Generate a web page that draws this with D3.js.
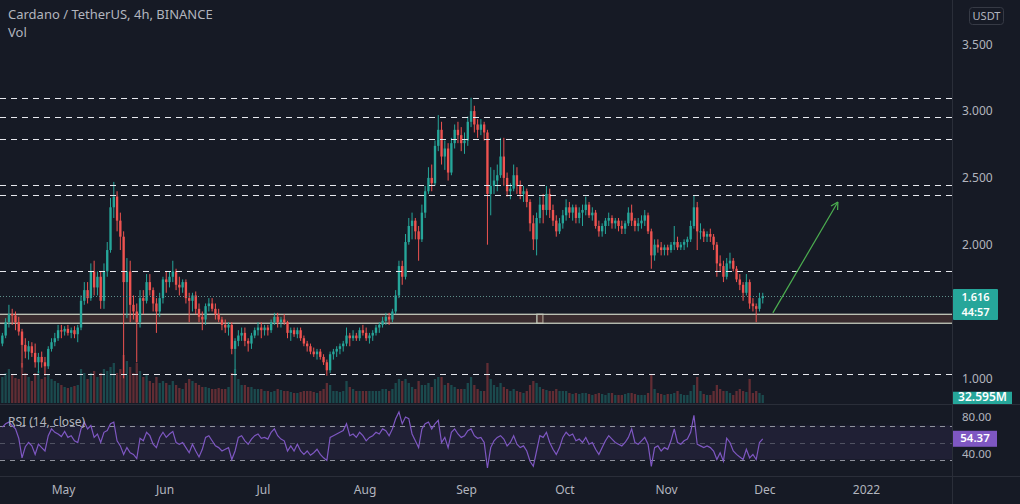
<!DOCTYPE html>
<html><head><meta charset="utf-8">
<script src="https://cdn.jsdelivr.net/npm/d3@7"></script>
<style>
html,body{margin:0;padding:0;background:#161a25;}
svg{display:block;}
text{font-family:"Noto Sans","Open Sans",sans-serif;}
</style></head><body>
<svg id="c" width="1020" height="504"></svg>
<script>
// ---------------- DATA (daily, 2021-04-12 .. 2021-11-30) ----------------
const startDay = [2021, 3, 12];          // 12 Apr 2021 (UTC)
const firstOpen = 1.26;
const closePrices = [
  1.32,1.42,1.48,1.47,1.42,1.35,1.25,1.20,1.24,1.19,1.12,1.16,1.12,1.09,1.22,1.27,1.30,1.36,1.35,
  1.37,1.34,1.36,1.33,1.38,1.58,1.66,1.60,1.80,1.68,1.76,1.58,1.80,1.96,2.28,2.36,2.18,2.06,1.72,1.80,1.55,1.50,1.42,1.60,1.58,1.72,1.66,1.56,1.50,1.60,1.74,
  1.72,1.76,1.80,1.70,1.68,1.72,1.60,1.58,1.62,1.52,1.46,1.44,1.54,1.56,1.52,1.48,1.44,1.40,1.38,1.40,1.22,1.28,1.32,1.34,1.28,1.26,1.32,1.36,1.38,1.36,
  1.38,1.36,1.42,1.46,1.42,1.44,1.42,1.34,1.36,1.33,1.36,1.30,1.26,1.24,1.20,1.18,1.20,1.16,1.12,1.06,1.18,1.20,1.22,1.24,1.26,1.32,1.30,1.32,1.30,1.36,1.34,
  1.30,1.32,1.34,1.38,1.40,1.43,1.46,1.44,1.50,1.62,1.84,1.76,2.02,2.14,2.18,2.10,2.04,2.24,2.40,2.50,2.46,2.74,2.86,2.66,2.72,2.54,2.76,2.86,2.82,2.76,2.78,
  2.92,3.00,2.90,2.86,2.90,2.84,2.38,2.44,2.48,2.52,2.66,2.50,2.40,2.42,2.52,2.44,2.38,2.40,2.32,2.16,2.04,2.20,2.30,2.26,2.38,2.26,2.18,2.10,2.16,2.22,
  2.28,2.24,2.28,2.20,2.24,2.26,2.30,2.22,2.24,2.14,2.10,2.14,2.18,2.20,2.16,2.18,2.14,2.12,2.16,2.24,2.18,2.14,2.16,2.18,2.22,2.10,1.92,2.00,1.98,1.96,1.98,
  1.96,2.00,2.02,1.98,2.00,2.02,2.04,2.14,2.28,2.10,2.10,2.06,2.08,2.06,2.00,1.86,1.84,1.76,1.86,1.88,1.82,1.74,1.70,1.64,1.72,1.56,1.54,1.52,1.60,1.616
];
const highPrices = [
  1.34,1.45,1.55,1.52,1.50,1.46,1.37,1.30,1.28,1.27,1.26,1.19,1.20,1.16,1.24,1.30,1.34,1.40,1.40,
  1.39,1.40,1.38,1.39,1.40,1.62,1.72,1.72,1.86,1.88,1.80,1.80,1.86,2.02,2.35,2.47,2.40,2.24,2.10,1.90,1.88,1.62,1.56,1.66,1.66,1.78,1.78,1.68,1.60,1.64,1.76,
  1.80,1.80,1.88,1.82,1.76,1.74,1.74,1.64,1.64,1.65,1.56,1.50,1.56,1.60,1.60,1.56,1.52,1.46,1.44,1.42,1.42,1.30,1.36,1.38,1.38,1.30,1.34,1.38,1.42,1.42,
  1.40,1.40,1.44,1.49,1.49,1.46,1.48,1.43,1.38,1.38,1.38,1.38,1.32,1.28,1.26,1.23,1.22,1.22,1.18,1.14,1.20,1.22,1.24,1.26,1.28,1.38,1.34,1.36,1.34,1.38,1.40,
  1.38,1.34,1.36,1.40,1.42,1.46,1.49,1.49,1.52,1.66,1.88,1.88,2.08,2.20,2.24,2.20,2.14,2.30,2.44,2.58,2.60,2.78,2.97,2.92,2.78,2.76,2.80,2.90,2.92,2.88,2.84,
  2.96,3.10,3.04,2.94,2.94,2.92,2.86,2.58,2.56,2.60,2.80,2.80,2.54,2.46,2.60,2.58,2.48,2.44,2.42,2.34,2.22,2.24,2.36,2.38,2.44,2.42,2.30,2.22,2.20,2.26,
  2.34,2.32,2.30,2.30,2.28,2.30,2.36,2.32,2.28,2.26,2.18,2.16,2.20,2.24,2.22,2.20,2.20,2.18,2.18,2.28,2.30,2.20,2.20,2.22,2.26,2.24,2.12,2.04,2.04,2.02,2.00,
  2.00,2.02,2.14,2.06,2.02,2.04,2.06,2.18,2.37,2.32,2.16,2.12,2.10,2.12,2.08,2.02,1.92,1.88,1.90,1.94,1.90,1.84,1.78,1.72,1.78,1.74,1.60,1.56,1.64,1.64
];
const lowPrices = [
  1.24,1.30,1.38,1.40,1.36,1.32,1.08,1.15,1.14,1.16,1.08,1.04,1.08,1.02,1.07,1.20,1.24,1.28,1.30,
  1.32,1.32,1.30,1.30,1.27,1.36,1.55,1.56,1.58,1.62,1.62,1.52,1.52,1.76,1.94,2.20,2.10,1.96,1.00,1.45,1.42,1.44,1.12,1.38,1.48,1.56,1.62,1.50,1.34,1.46,1.56,
  1.64,1.68,1.72,1.66,1.62,1.64,1.56,1.42,1.50,1.48,1.42,1.36,1.40,1.50,1.50,1.44,1.42,1.36,1.34,1.32,1.18,1.02,1.24,1.28,1.24,1.20,1.22,1.30,1.32,1.30,
  1.32,1.32,1.34,1.40,1.38,1.38,1.40,1.30,1.28,1.31,1.30,1.28,1.24,1.20,1.18,1.16,1.14,1.14,1.10,1.02,1.04,1.14,1.16,1.18,1.20,1.24,1.24,1.28,1.28,1.28,1.32,
  1.28,1.26,1.28,1.32,1.34,1.38,1.40,1.40,1.42,1.48,1.60,1.70,1.74,2.00,2.04,2.04,1.88,2.02,2.20,2.38,2.40,2.44,2.70,2.60,2.56,2.48,2.52,2.72,2.76,2.70,2.68,
  2.74,2.88,2.84,2.80,2.82,2.78,2.00,2.22,2.38,2.40,2.50,2.44,2.36,2.34,2.40,2.38,2.34,2.32,2.28,2.10,1.96,1.92,2.16,2.16,2.22,2.20,2.14,2.06,2.08,2.12,
  2.18,2.20,2.18,2.16,2.16,2.14,2.22,2.20,2.18,2.12,2.06,2.06,2.08,2.14,2.12,2.12,2.10,2.08,2.08,2.14,2.14,2.10,2.10,2.12,2.14,2.08,1.82,1.88,1.94,1.92,1.92,
  1.92,1.94,1.96,1.96,1.96,1.96,1.98,2.02,2.12,1.96,2.04,2.02,2.02,2.02,1.96,1.76,1.80,1.72,1.74,1.82,1.80,1.72,1.66,1.58,1.62,1.52,1.50,1.42,1.50,1.56
];
const volumes = [ // millions
  260,300,340,280,250,240,400,300,260,220,300,320,240,260,280,240,220,200,180,
  160,150,160,170,180,340,300,240,300,320,260,300,340,320,360,400,300,340,480,420,360,300,400,320,260,280,220,200,260,200,220,
  200,180,220,180,150,140,200,240,220,200,180,160,160,150,140,140,150,140,140,160,300,340,240,180,180,160,160,140,140,140,
  120,120,110,120,140,130,120,120,110,100,100,110,120,120,120,110,100,120,140,200,180,120,120,110,120,220,160,140,120,120,120,
  120,120,120,120,120,140,140,120,140,200,240,220,240,200,160,140,220,180,180,200,160,240,260,260,180,200,180,160,140,140,140,
  200,260,180,140,120,120,400,240,180,160,200,160,140,120,140,120,110,100,120,180,220,200,160,140,130,120,120,140,120,120,
  120,100,90,100,90,100,100,90,80,90,100,90,80,100,100,80,80,80,90,100,100,90,80,80,80,100,280,140,100,90,80,
  90,90,100,120,90,80,80,120,180,260,120,90,80,80,120,180,140,120,120,100,80,120,140,120,110,240,100,120,100,80
];
const rsiValues = [
  68,72,74,70,66,55,32,45,50,46,36,48,44,40,58,66,62,60,57,
  63,56,58,52,50,66,74,66,70,56,60,50,62,64,72,74,52,46,36,44,38,36,31,55,52,62,58,48,44,56,62,
  56,60,63,50,48,50,44,38,48,40,33,42,56,58,52,46,44,40,42,44,30,40,56,58,52,48,54,58,60,55,
  56,54,62,66,58,54,52,40,46,40,48,40,36,40,35,38,42,36,32,29,56,58,60,62,64,72,58,60,56,62,58,
  52,56,58,62,60,66,64,58,66,78,86,72,80,78,60,52,44,66,72,74,66,72,76,50,56,44,62,66,60,56,58,
  64,66,58,55,56,50,20,44,52,56,58,54,46,50,58,48,44,46,40,28,22,40,58,56,62,50,42,36,44,56,
  62,58,60,52,54,50,56,48,50,42,36,44,52,58,54,50,48,46,50,56,66,50,48,52,56,48,22,44,46,40,44,
  42,52,66,50,48,52,54,62,82,48,46,44,46,44,40,30,38,28,55,50,40,36,33,30,42,32,36,30,50,54.37
];
const currentVolume = 32.595;
const countdown = "44:57";
const priceTicks = [1.0, 2.0, 2.5, 3.0, 3.5];
const rsiTicks = [40, 80];
const rsiLevels = [70, 50, 30];
const timeTicks = ["2021-05-01","2021-06-01","2021-07-01","2021-08-01","2021-09-01","2021-10-01","2021-11-01","2021-12-01","2022-01-01"];
const timeTickLabels = ["May","Jun","Jul","Aug","Sep","Oct","Nov","Dec","2022"];
const levelPrices = [3.096, 2.954, 2.789, 2.445, 2.370, 1.803, 1.030];
const zonePrices = [1.412, 1.479];
const zoneBreaks = ["2021-09-22T14:00:00Z", "2021-09-24T10:00:00Z"];
const arrowPoints = [{t:"2021-12-03T14:00:00Z", p:1.49}, {t:"2021-12-23T10:00:00Z", p:2.32}];
const titleText = "Cardano / TetherUS, 4h, BINANCE";
const volText = "Vol";
const rsiText = "RSI (14, close)";
const currencyText = "USDT";

// ---------------- LAYOUT ----------------
const W = 1020, H = 504, axisX = 952, mainBottom = 404, rsiBottom = 476;
const UP = "#26a69a", DOWN = "#ef5350", TXT = "#b2b5be", GRID = "#2a2e39";

const svg = d3.select("#c");
svg.append("rect").attr("width", W).attr("height", H).attr("fill", "#161a25");

const x = d3.scaleUtc().domain([new Date("2021-05-01T00:00:00Z"), new Date("2022-01-01T00:00:00Z")]).range([63, 866]);
const y = d3.scaleLinear().domain([1, 3.5]).range([378.3, 44.3]);
const yVol = d3.scaleLinear().domain([0, 500]).range([403, 353]);
const yRsi = d3.scaleLinear().domain([0, 100]).range([485, 400]);

const data = closePrices.map((c, i) => {
  const o = i === 0 ? firstOpen : closePrices[i - 1];
  return {
    t: new Date(Date.UTC(startDay[0], startDay[1], startDay[2] + i, 12)),
    o, c,
    h: Math.max(highPrices[i], o, c),
    l: Math.min(lowPrices[i], o, c),
    v: volumes[i], r: rsiValues[i]
  };
});
const dayW = x(new Date("2021-05-02T00:00:00Z")) - x(new Date("2021-05-01T00:00:00Z"));
const bodyW = dayW * 0.72;

const defs = svg.append("defs");
defs.append("clipPath").attr("id", "mainClip").append("rect").attr("x", 0).attr("y", 0).attr("width", axisX).attr("height", mainBottom);
defs.append("clipPath").attr("id", "rsiClip").append("rect").attr("x", 0).attr("y", mainBottom).attr("width", axisX).attr("height", rsiBottom - mainBottom);

const main = svg.append("g").attr("clip-path", "url(#mainClip)");

// zone rectangles
const zb = zoneBreaks.map(s => x(new Date(s)));
[[-10, zb[1]], [zb[0], axisX + 20]].forEach(([a, b]) => {
  main.append("rect").attr("x", a).attr("width", b - a)
    .attr("y", y(zonePrices[1])).attr("height", y(zonePrices[0]) - y(zonePrices[1]))
    .attr("fill", "rgba(110,70,60,0.40)").attr("stroke", "#c2c9bb").attr("stroke-width", 1.3);
});

// volume
main.append("g").selectAll("rect").data(data).join("rect")
  .attr("x", d => x(d.t) - dayW / 2 + 0.5).attr("width", dayW - 1)
  .attr("y", d => yVol(d.v)).attr("height", d => yVol(0) - yVol(d.v))
  .attr("fill", d => d.c >= d.o ? UP : DOWN).attr("opacity", 0.35);

// candles
const cg = main.append("g");
cg.selectAll("line").data(data).join("line")
  .attr("x1", d => x(d.t)).attr("x2", d => x(d.t))
  .attr("y1", d => y(d.h)).attr("y2", d => y(d.l))
  .attr("stroke", d => d.c >= d.o ? UP : DOWN).attr("stroke-width", 1);
cg.selectAll("rect").data(data).join("rect")
  .attr("x", d => x(d.t) - bodyW / 2).attr("width", bodyW)
  .attr("y", d => y(Math.max(d.o, d.c)))
  .attr("height", d => Math.max(1, Math.abs(y(d.o) - y(d.c))))
  .attr("fill", d => d.c >= d.o ? UP : DOWN);

// horizontal dashed levels
main.append("g").selectAll("line").data(levelPrices).join("line")
  .attr("x1", 0).attr("x2", axisX).attr("y1", d => Math.round(y(d)) + 0.5).attr("y2", d => Math.round(y(d)) + 0.5)
  .attr("stroke", "#e6e8ee").attr("stroke-width", 1.2).attr("stroke-dasharray", "6,5");

// last price dotted line
const last = data[data.length - 1];
main.append("line").attr("x1", 0).attr("x2", axisX)
  .attr("y1", Math.round(y(last.c)) + 0.5).attr("y2", Math.round(y(last.c)) + 0.5)
  .attr("stroke", "#5f8f8b").attr("stroke-width", 1).attr("stroke-dasharray", "1,2");

// arrow drawing
const a0 = [x(new Date(arrowPoints[0].t)), y(arrowPoints[0].p)];
const a1 = [x(new Date(arrowPoints[1].t)), y(arrowPoints[1].p)];
main.append("line").attr("x1", a0[0]).attr("y1", a0[1]).attr("x2", a1[0]).attr("y2", a1[1])
  .attr("stroke", "#4caf50").attr("stroke-width", 1.2);
const ang = Math.atan2(a1[1] - a0[1], a1[0] - a0[0]);
[-0.5, 0.5].forEach(da => {
  main.append("line").attr("x1", a1[0]).attr("y1", a1[1])
    .attr("x2", a1[0] - 8 * Math.cos(ang + da)).attr("y2", a1[1] - 8 * Math.sin(ang + da))
    .attr("stroke", "#4caf50").attr("stroke-width", 1.2);
});

// ---------------- RSI pane ----------------
const rg = svg.append("g").attr("clip-path", "url(#rsiClip)");
rg.append("rect").attr("x", 0).attr("width", axisX)
  .attr("y", yRsi(rsiLevels[0])).attr("height", yRsi(rsiLevels[2]) - yRsi(rsiLevels[0]))
  .attr("fill", "rgba(126,87,194,0.10)");
rg.selectAll("line.lvl").data(rsiLevels).join("line").attr("class", "lvl")
  .attr("x1", 0).attr("x2", axisX).attr("y1", d => Math.round(yRsi(d)) + 0.5).attr("y2", d => Math.round(yRsi(d)) + 0.5)
  .attr("stroke", d => d === 50 ? "rgba(120,123,134,0.55)" : "#8f929c").attr("stroke-width", 1).attr("stroke-dasharray", "5,5");
rg.append("path").datum(data)
  .attr("d", d3.line().x(d => x(d.t)).y(d => yRsi(d.r)))
  .attr("fill", "none").attr("stroke", "#7e57c2").attr("stroke-width", 1.2);

// ---------------- separators ----------------
svg.append("line").attr("x1", 0).attr("x2", W).attr("y1", mainBottom + 0.5).attr("y2", mainBottom + 0.5).attr("stroke", GRID);
svg.append("line").attr("x1", 0).attr("x2", W).attr("y1", rsiBottom + 0.5).attr("y2", rsiBottom + 0.5).attr("stroke", GRID);
svg.append("line").attr("x1", axisX + 0.5).attr("x2", axisX + 0.5).attr("y1", 0).attr("y2", H).attr("stroke", GRID);

// ---------------- axes ----------------
const pa = svg.append("g").attr("transform", `translate(${axisX},0)`)
  .call(d3.axisRight(y).tickValues(priceTicks).tickFormat(d3.format(".3f")).tickSize(0).tickPadding(10));
pa.select(".domain").remove();
pa.selectAll("text").attr("fill", TXT).style("font-size", "12px").style("font-family", '"Noto Sans",sans-serif');

const ra = svg.append("g").attr("transform", `translate(${axisX},0)`)
  .call(d3.axisRight(yRsi).tickValues(rsiTicks).tickFormat(d3.format(".2f")).tickSize(0).tickPadding(10));
ra.select(".domain").remove();
ra.selectAll("text").attr("fill", TXT).style("font-size", "11.5px").style("font-family", '"Noto Sans",sans-serif')
  .attr("dy", d => d === 40 ? "0.55em" : "0.32em");

const ta = svg.append("g").attr("transform", `translate(0,${rsiBottom})`)
  .call(d3.axisBottom(x).tickValues(timeTicks.map(s => new Date(s + "T00:00:00Z"))).tickFormat((d, i) => timeTickLabels[i]).tickSize(0).tickPadding(9));
ta.select(".domain").remove();
ta.selectAll("text").attr("fill", TXT).style("font-size", "12px").style("font-family", '"Noto Sans",sans-serif');

// ---------------- labels ----------------
svg.append("text").attr("x", 8).attr("y", 19).text(titleText).attr("fill", TXT).style("font-size", "13px");
svg.append("text").attr("x", 8).attr("y", 37).text(volText).attr("fill", TXT).style("font-size", "13px");
svg.append("text").attr("x", 8).attr("y", 426).text(rsiText).attr("fill", TXT).style("font-size", "12px");

svg.append("rect").attr("x", 969.5).attr("y", 7.5).attr("width", 34).attr("height", 17).attr("rx", 3)
  .attr("fill", "none").attr("stroke", "#363a45");
svg.append("text").attr("x", 986.5).attr("y", 20).attr("text-anchor", "middle").text(currencyText)
  .attr("fill", TXT).style("font-size", "11px");

// last price label
const ly = y(last.c);
svg.append("rect").attr("x", axisX + 1).attr("y", ly - 7).attr("width", 45).attr("height", 31).attr("rx", 1).attr("fill", UP);
svg.append("text").attr("x", axisX + 23.5).attr("y", ly + 4.5).attr("text-anchor", "middle").text(d3.format(".3f")(last.c))
  .attr("fill", "#fff").style("font-size", "11px").style("font-weight", "600");
svg.append("text").attr("x", axisX + 23.5).attr("y", ly + 19.5).attr("text-anchor", "middle").text(countdown)
  .attr("fill", "#fff").style("font-size", "11px").style("font-weight", "600");

// volume label
const vy = yVol(currentVolume);
defs.append("clipPath").attr("id", "volLbl").append("rect").attr("x", axisX).attr("y", 0).attr("width", 70).attr("height", mainBottom);
const vg = svg.append("g").attr("clip-path", "url(#volLbl)");
vg.append("rect").attr("x", axisX + 1).attr("y", vy - 8).attr("width", 59).attr("height", 16).attr("fill", UP);
vg.append("text").attr("x", axisX + 30.5).attr("y", vy + 1.5).attr("text-anchor", "middle").text(d3.format(".3f")(currentVolume) + "M")
  .attr("fill", "#fff").style("font-size", "12px").style("font-weight", "600");

// RSI label
const ry = yRsi(last.r);
svg.append("rect").attr("x", axisX + 1).attr("y", ry - 8).attr("width", 44).attr("height", 16).attr("fill", "#7e57c2");
svg.append("text").attr("x", axisX + 23).attr("y", ry + 3.5).attr("text-anchor", "middle").text(d3.format(".2f")(last.r))
  .attr("fill", "#fff").style("font-size", "11.5px").style("font-weight", "600");
</script>
</body></html>
